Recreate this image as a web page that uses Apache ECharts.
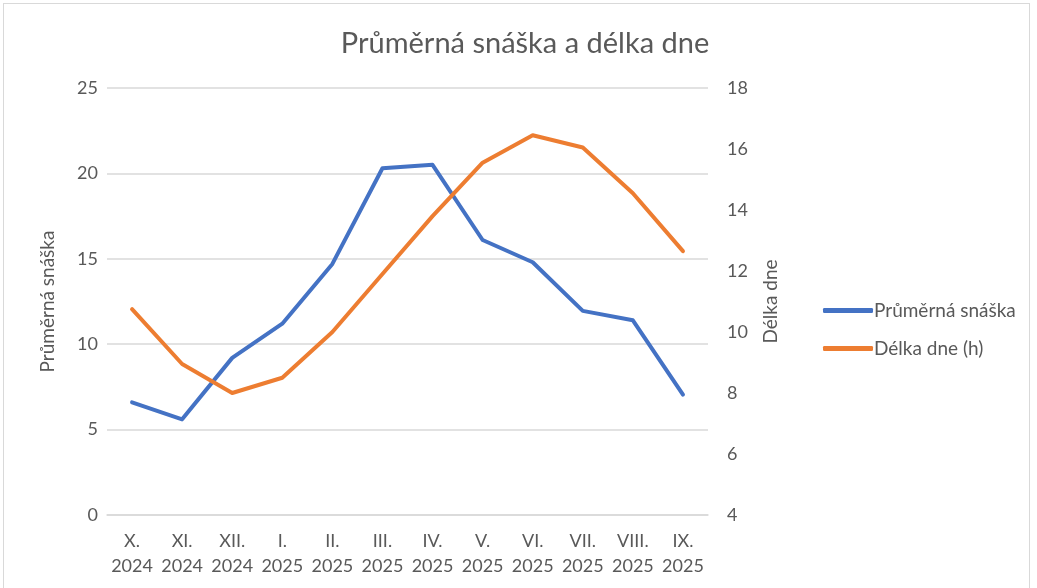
<!DOCTYPE html>
<html>
<head>
<meta charset="utf-8">
<script src="https://cdn.jsdelivr.net/npm/echarts@6/dist/echarts.min.js"></script>
<style>
  html, body { margin: 0; padding: 0; background: #fff; }
  #frame { position: absolute; left: 3px; top: 3px; width: 1027px; height: 590px; border: 1px solid #d9d9d9; box-sizing: border-box; }
  #chart { width: 1037px; height: 588px; }
</style>
</head>
<body>
<div id="frame"></div>
<div id="chart"></div>
<script>
  // months Oct 2024 .. Sep 2025
  var categories = ['X.\n2024', 'XI.\n2024', 'XII.\n2024', 'I.\n2025', 'II.\n2025', 'III.\n2025',
                    'IV.\n2025', 'V.\n2025', 'VI.\n2025', 'VII.\n2025', 'VIII.\n2025', 'IX.\n2025'];
  var snaska = [6.6, 5.6, 9.2, 11.2, 14.7, 20.3, 20.5, 16.1, 14.8, 11.95, 11.4, 7.05];
  var delkaDne = [10.75, 8.95, 8.0, 8.5, 10.0, 11.9, 13.8, 15.55, 16.45, 16.05, 14.55, 12.65];

  var textColor = '#595959';
  var gridColor = '#d9d9d9';
  var font = 'Lato, "Noto Sans", sans-serif';

  var chart = echarts.init(document.getElementById('chart'));
  var option = {
    backgroundColor: 'transparent',
    textStyle: { fontFamily: font },
    title: {
      text: 'Průměrná snáška a délka dne',
      left: 520, top: 24, textAlign: 'center',
      textStyle: { fontFamily: font, fontSize: 29, fontWeight: 'normal', color: textColor }
    },
    legend: {
      orient: 'vertical',
      left: 818, top: 296,
      itemWidth: 50, itemHeight: 5, itemGap: 19,
      icon: 'roundRect',
      textStyle: { fontFamily: font, fontSize: 19, color: textColor, padding: [0, 0, 0, -4] },
      data: ['Průměrná snáška', 'Délka dne (h)']
    },
    grid: { left: 107, right: 329, top: 88, bottom: 73 },
    xAxis: {
      type: 'category',
      data: categories,
      boundaryGap: true,
      axisLine: { lineStyle: { color: gridColor, width: 1.5 } },
      axisTick: { show: false },
      axisLabel: { color: textColor, fontSize: 18, lineHeight: 25, margin: 14, interval: 0 }
    },
    yAxis: [{
      type: 'value', min: 0, max: 25, interval: 5,
      name: 'Průměrná snáška', nameLocation: 'middle', nameGap: 50,
      nameTextStyle: { color: textColor, fontSize: 19 },
      axisLine: { show: false }, axisTick: { show: false },
      axisLabel: { color: textColor, fontSize: 18, margin: 9 },
      splitLine: { lineStyle: { color: gridColor, width: 1.5 } }
    }, {
      type: 'value', min: 4, max: 18, interval: 2,
      name: 'Délka dne', nameLocation: 'middle', nameGap: 53,
      nameTextStyle: { color: textColor, fontSize: 19 },
      axisLine: { show: false }, axisTick: { show: false },
      axisLabel: { color: textColor, fontSize: 18, margin: 19 },
      splitLine: { show: false }
    }],
    series: [{
      name: 'Průměrná snáška',
      type: 'line',
      yAxisIndex: 0,
      data: snaska,
      showSymbol: false,
      color: '#4472C4',
      lineStyle: { width: 4, cap: 'round', join: 'round' }
    }, {
      name: 'Délka dne (h)',
      type: 'line',
      yAxisIndex: 1,
      data: delkaDne,
      showSymbol: false,
      color: '#ED7D31',
      lineStyle: { width: 4, cap: 'round', join: 'round' }
    }]
  };
  chart.setOption(option);
</script>
</body>
</html>
